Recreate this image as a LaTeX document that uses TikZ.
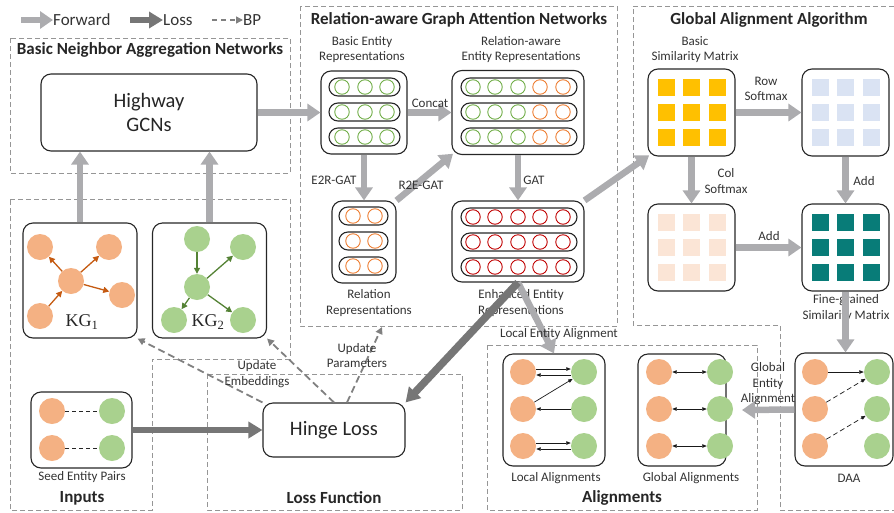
\documentclass[tikz,border=0pt]{standalone}
\usepackage{fontspec}
\setmainfont{Carlito}
\newfontfamily\kgfont{Liberation Serif}
\usetikzlibrary{arrows.meta,positioning}

\definecolor{fwdgray}{RGB}{172,172,175}
\definecolor{lossgray}{RGB}{118,118,118}
\definecolor{bpgray}{RGB}{128,128,128}
\definecolor{regiongray}{RGB}{150,150,150}
\definecolor{entorange}{RGB}{244,177,131}
\definecolor{entgreen}{RGB}{169,209,142}
\definecolor{lineorange}{RGB}{237,125,49}
\definecolor{linegreen}{RGB}{112,173,71}
\definecolor{linered}{RGB}{192,0,0}
\definecolor{kgorange}{RGB}{197,90,17}
\definecolor{kggreen}{RGB}{84,130,53}
\definecolor{simyellow}{RGB}{255,192,0}
\definecolor{simblue}{RGB}{218,227,243}
\definecolor{simpeach}{RGB}{251,229,214}
\definecolor{simteal}{RGB}{8,124,120}

\begin{document}
\begin{tikzpicture}[x=1pt,y=-1pt,
 box/.style={draw=black!85,line width=1.1pt,rounded corners=10pt,inner sep=0pt},
 region/.style={draw=regiongray,line width=0.9pt,dash pattern=on 5pt off 3pt},
 title/.style={font=\fontsize{17}{20}\selectfont\bfseries,text=black!85,inner sep=0pt},
 lab/.style={font=\fontsize{13}{15.5}\selectfont,text=black!80,align=center,inner sep=0pt},
 legend/.style={font=\fontsize{17}{20}\selectfont,text=black!80,inner sep=0pt,anchor=west},
 fwd/.style={draw=fwdgray,line width=6.5pt,-{Triangle[length=13pt,width=17pt]}},
 loss/.style={draw=lossgray,line width=6.5pt,-{Triangle[length=14pt,width=16pt]}},
 bp/.style={draw=bpgray,line width=1.8pt,dash pattern=on 7pt off 4pt,-{Triangle[length=7pt,width=7pt]}},
 pill/.style={draw=black!85,line width=1.1pt,rounded corners=9pt,minimum height=18pt,inner sep=0pt},
 vec/.style={circle,draw=#1,line width=0.9pt,minimum size=14.5pt,inner sep=0pt},
 ent/.style={circle,fill=#1,minimum size=26pt,inner sep=0pt},
 cell/.style={fill=#1,minimum size=17pt,inner sep=0pt},
 kgarrow/.style={draw=#1,line width=1.3pt,-{Triangle[length=6pt,width=6pt]}},
 link/.style={draw=black!90,line width=0.7pt,-{Triangle[length=4.5pt,width=3.5pt]}},
]
\useasboundingbox (0,0) rectangle (894,512);

% legend
\node[legend] (fwdlab) at (53,20) {Forward};
\node[legend] (losslab) at (163,20) {Loss};
\node[legend] (bplab) at (243,20) {BP};
\coordinate (fwdtail) at (21,20);
\coordinate (losstail) at (130,20);
\coordinate (bptail) at (212,20);
\draw[fwd,line width=6pt] (fwdtail) -- (fwdlab.west);
\draw[loss,line width=6pt] (losstail) -- (losslab.west);
\draw[bp,line width=1.5pt,dash pattern=on 5pt off 4pt] (bptail) -- (bplab.west);

% dashed regions
\draw[region] (10,38) rectangle (290,173);
\draw[region] (300,6) rectangle (617,326);
\draw[region] (633,6) -- (897,6) -- (897,510) -- (780,510) -- (780,325) -- (633,325) -- cycle;
\draw[region] (487,345) rectangle (757,510);
\draw[region] (207,374) rectangle (462,510);
\draw[region] (10,199) -- (290,199) -- (290,359) -- (152,359) -- (152,510) -- (10,510) -- cycle;

\node[title] (bnatitle) at (150,50) {Basic Neighbor Aggregation Networks};
\node[title] (gattitle) at (459,20) {Relation-aware Graph Attention Networks};
\node[title] (galtitle) at (769,20) {Global Alignment Algorithm};
\node[title] (inptitle) at (82,498) {Inputs};
\node[title] (losstitle) at (334,498) {Loss Function};
\node[title] (alitle) at (622,498) {Alignments};

% basic neighbor aggregation
\node[box,minimum width=216pt,minimum height=77pt,align=center,font=\fontsize{20.5}{24}\selectfont,text=black!85] (hwy) at (149,112.5) {Highway\\GCNs};

% inputs: KG1, KG2
\node[box,minimum width=114pt,minimum height=115pt] (kg1) at (80,280.5) {};
\node[box,minimum width=114pt,minimum height=115pt] (kg2) at (209.5,280.5) {};
\node[ent=entorange] (k1a) at (40,247) {};
\node[ent=entorange] (k1b) at (109,247) {};
\node[ent=entorange] (k1c) at (71,281) {};
\node[ent=entorange] (k1d) at (122,295) {};
\node[ent=entorange] (k1e) at (40,316) {};
\draw[kgarrow=kgorange] (k1c) -- (k1a);
\draw[kgarrow=kgorange] (k1c) -- (k1b);
\draw[kgarrow=kgorange] (k1c) -- (k1d);
\draw[kgarrow=kgorange] (k1e) -- (k1c);
\node[font=\kgfont\fontsize{18}{20}\selectfont,text=black!85] (kg1lab) at (82,322) {KG\textsubscript{1}};
\node[ent=entgreen] (k2a) at (197,239) {};
\node[ent=entgreen] (k2b) at (243,247) {};
\node[ent=entgreen] (k2c) at (197,287) {};
\node[ent=entgreen] (k2d) at (174,320) {};
\node[ent=entgreen] (k2e) at (243,320) {};
\draw[kgarrow=kggreen] (k2a) -- (k2c);
\draw[kgarrow=kggreen] (k2c) -- (k2b);
\draw[kgarrow=kggreen] (k2c) -- (k2d);
\draw[kgarrow=kggreen] (k2c) -- (k2e);
\node[font=\kgfont\fontsize{18}{20}\selectfont,text=black!85] (kg2lab) at (208,322) {KG\textsubscript{2}};
\draw[fwd] (kg1.north) -- (kg1.north |- hwy.south);
\draw[fwd] (kg2.north) -- (kg2.north |- hwy.south);

% seed entity pairs
\node[box,minimum width=101pt,minimum height=76pt] (seed) at (81.5,430) {};
\node[ent=entorange] (so1) at (52,411) {};
\node[ent=entgreen] (sg1) at (112,411) {};
\node[ent=entorange] (so2) at (52,448) {};
\node[ent=entgreen] (sg2) at (112,448) {};
\draw[black!85,line width=0.9pt,dash pattern=on 4pt off 3pt] (so1) -- (sg1);
\draw[black!85,line width=0.9pt,dash pattern=on 4pt off 3pt] (so2) -- (sg2);
\node[lab] (seedlab) at (82,477) {Seed Entity Pairs};

% relation-aware GAT
\node[box,minimum width=86pt,minimum height=83pt] (bas) at (364,112.5) {};
\node[box,minimum width=132pt,minimum height=84pt] (rae) at (518,112.5) {};
\node[box,minimum width=64pt,minimum height=82pt] (rel) at (364,242) {};
\node[box,minimum width=132pt,minimum height=81pt] (enh) at (518,241.5) {};
\foreach \y [count=\i] in {87,112,137} {
  \node[pill,minimum width=71pt] (basrow\i) at (364.5,\y) {};
  \foreach \x [count=\j] in {342,365,387}
    \node[vec=linegreen] (basv\i\j) at (\x,\y) {};
  \node[pill,minimum width=116pt] (raerow\i) at (519,\y) {};
  \foreach \x/\c [count=\j] in {473/linegreen,495/linegreen,518/linegreen,540/lineorange,563/lineorange}
    \node[vec=\c] (raev\i\j) at (\x,\y) {};
}
\foreach \y [count=\i] in {216,241,266} {
  \node[pill,minimum width=49pt] (relrow\i) at (363.5,\y) {};
  \foreach \x [count=\j] in {353,375}
    \node[vec=lineorange] (relv\i\j) at (\x,\y) {};
}
\foreach \y [count=\i] in {217,242,267} {
  \node[pill,minimum width=116pt] (enhrow\i) at (519,\y) {};
  \foreach \x [count=\j] in {473,495,518,540,563}
    \node[vec=linered] (enhv\i\j) at (\x,\y) {};
}
\node[lab] (baslab) at (362,49.5) {Basic Entity\\Representations};
\node[lab] (raelab) at (521,49.5) {Relation-aware\\Entity Representations};
\node[lab] (rellab) at (369,303) {Relation\\Representations};
\node[lab] (enhlab) at (521,303) {Enhanced Entity\\Representations};

\draw[fwd] (hwy.east) -- (bas.west);
\draw[fwd] (bas.east) -- (rae.west);
\node[lab] (concat) at (430,103) {Concat};
\draw[fwd] (bas.south) -- (rel.north);
\node[lab] (e2r) at (334,180) {E2R-GAT};
\draw[fwd,shorten >=-2pt] (rel.north east) -- (rae.south west);
\node[lab] (r2e) at (421,185) {R2E-GAT};
\draw[fwd] (rae.south) -- (enh.north);
\node[lab] (gat) at (534,180) {GAT};

% global alignment algorithm
\node[box,minimum width=87pt,minimum height=87pt] (simb) at (691.5,112.5) {};
\node[box,minimum width=87pt,minimum height=87pt] (rowb) at (845.5,112.5) {};
\node[box,minimum width=87pt,minimum height=87pt] (colb) at (691.5,247.5) {};
\node[box,minimum width=87pt,minimum height=87pt] (fine) at (845.5,247.5) {};
\foreach \dx [count=\i] in {-25.5,0,25.5}
  \foreach \dy [count=\j] in {-25,0,25} {
    \node[cell=simyellow] (simc\i\j) at (691.5+\dx,112+\dy) {};
    \node[cell=simblue] (rowc\i\j) at (845.5+\dx,112+\dy) {};
    \node[cell=simpeach] (colc\i\j) at (691.5+\dx,247+\dy) {};
    \node[cell=simteal] (finec\i\j) at (845.5+\dx,247+\dy) {};
  }
\node[lab] (simlab) at (695,49.5) {Basic\\Similarity Matrix};
\node[lab] (finelab) at (846,308) {Fine-grained\\Similarity Matrix};
\draw[fwd,shorten >=-2pt] (enh.north east) -- (simb.south west);
\draw[fwd] (simb.east) -- (rowb.west);
\node[lab] (rowsm) at (766,89) {Row\\Softmax};
\draw[fwd] (simb.south) -- (colb.north);
\node[lab] (colsm) at (726,181) {Col\\Softmax};
\draw[fwd] (rowb.south) -- (fine.north);
\node[lab] (addv) at (864,181) {Add};
\draw[fwd] (colb.east) -- (fine.west);
\node[lab] (addh) at (769,236) {Add};

% DAA
\node[box,minimum width=98pt,minimum height=113pt] (daa) at (844,409.5) {};
\node[ent=entorange] (do1) at (815,372) {};
\node[ent=entorange] (do2) at (815,409) {};
\node[ent=entorange] (do3) at (815,446) {};
\node[ent=entgreen] (dg1) at (877,372) {};
\node[ent=entgreen] (dg2) at (877,409) {};
\node[ent=entgreen] (dg3) at (877,446) {};
\draw[link] (do1) -- (dg1);
\draw[link,dash pattern=on 5pt off 3pt] (do2) -- (dg1);
\draw[link,dash pattern=on 5pt off 3pt] (do3) -- (dg2);
\node[lab] (daalab) at (849,478) {DAA};
\draw[fwd] (fine.south) -- (fine.south |- daa.north);

% alignments
\node[box,minimum width=102pt,minimum height=112pt] (locb) at (554,410) {};
\node[box,minimum width=88pt,minimum height=112pt] (galb) at (682,410) {};
\foreach \y [count=\i] in {372,409,446} {
  \node[ent=entorange] (lo\i) at (523,\y) {};
  \node[ent=entgreen] (lg\i) at (584,\y) {};
  \node[ent=entorange] (go\i) at (659,\y) {};
  \node[ent=entgreen] (gg\i) at (720,\y) {};
  \draw[link,{Triangle[length=4.5pt,width=3.5pt]}-{Triangle[length=4.5pt,width=3.5pt]}] (go\i) -- (gg\i);
}
\draw[link] ([yshift=3pt]lo1.east) -- ([yshift=3pt]lg1.west);
\draw[link] ([yshift=-3pt]lg1.west) -- ([yshift=-3pt]lo1.east);
\draw[link] (lo2) -- (lg1);
\draw[link] (lg2) -- (lo2);
\draw[link] ([yshift=3pt]lo3.east) -- ([yshift=3pt]lg3.west);
\draw[link] ([yshift=-3pt]lg3.west) -- ([yshift=-3pt]lo3.east);
\node[lab] (loclab) at (556,478) {Local Alignments};
\node[lab] (gallab) at (691,478) {Global Alignments};
\coordinate (gaend) at (742,410);
\draw[fwd] (daa.west) -- (gaend);
\node[lab] (gealab) at (768,384) {Global\\Entity\\Alignment};
\draw[fwd] (enh.south) -- (locb.north);
\node[lab] (lealab) at (559,334) {Local Entity Alignment};

% loss
\node[box,minimum width=142pt,minimum height=54pt,font=\fontsize{20.5}{24}\selectfont,text=black!85] (hinge) at (334,430) {Hinge Loss};
\draw[loss] (seed.east) -- (hinge.west);
\draw[loss,line width=7.5pt] (enh.south) -- (hinge.north east);
\coordinate (gatbot) at (382,327);
\draw[bp] (hinge.north west) -- (kg1.south east);
\draw[bp] (hinge.north) -- (kg2.south east);
\draw[bp] ([xshift=13pt]hinge.north) -- (gatbot);
\node[lab] (updemb) at (257,374) {Update\\Embeddings};
\node[lab] (updpar) at (357,355.5) {Update\\Parameters};

\end{tikzpicture}
\end{document}
